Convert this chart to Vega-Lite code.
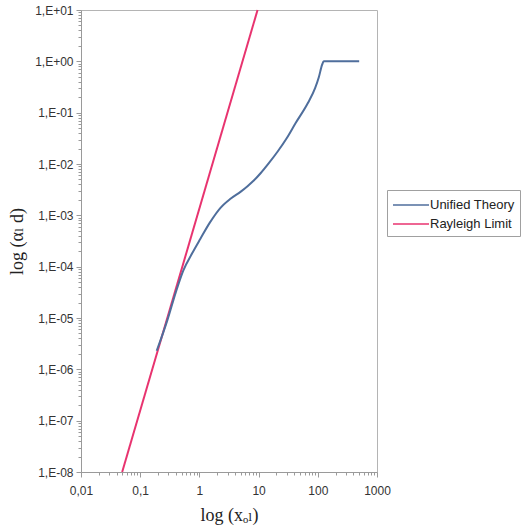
{
  "$schema": "https://vega.github.io/schema/vega-lite/v6.json",
  "autosize": "none",
  "width": 296,
  "height": 462,
  "padding": {"left": 81, "top": 10, "right": 144, "bottom": 57},
  "background": "white",
  "config": {
    "view": {"stroke": "#b4b4b4", "strokeWidth": 1},
    "axis": {
      "domainColor": "#9a9a9a",
      "tickColor": "#9a9a9a",
      "labelColor": "#333333",
      "labelFont": "Liberation Sans",
      "labelFontSize": 12,
      "titleFont": "Liberation Serif, DejaVu Serif, DejaVu Sans",
      "titleFontSize": 18,
      "titleFontWeight": "normal",
      "titleColor": "#222222",
      "grid": false,
      "labelOverlap": false,
      "labelFlush": false
    },
    "legend": {
      "labelFont": "Liberation Sans",
      "labelFontSize": 13,
      "labelColor": "#222222"
    }
  },
  "data": {
    "values": [
      {"series": "Rayleigh Limit", "x": 0.0496, "y": 1e-8},
      {"series": "Rayleigh Limit", "x": 9.6, "y": 10},
      {"series": "Unified Theory", "x": 0.19, "y": 2.3e-6},
      {"series": "Unified Theory", "x": 0.287, "y": 9e-6},
      {"series": "Unified Theory", "x": 0.4, "y": 3.2e-5},
      {"series": "Unified Theory", "x": 0.536, "y": 8.5e-5},
      {"series": "Unified Theory", "x": 0.75, "y": 1.8e-4},
      {"series": "Unified Theory", "x": 1.04, "y": 3.5e-4},
      {"series": "Unified Theory", "x": 1.5, "y": 7.2e-4},
      {"series": "Unified Theory", "x": 2.27, "y": 1.4e-3},
      {"series": "Unified Theory", "x": 3.35, "y": 2.1e-3},
      {"series": "Unified Theory", "x": 5, "y": 2.9e-3},
      {"series": "Unified Theory", "x": 6.5, "y": 3.7e-3},
      {"series": "Unified Theory", "x": 8.2, "y": 4.7e-3},
      {"series": "Unified Theory", "x": 10.8, "y": 6.6e-3},
      {"series": "Unified Theory", "x": 15, "y": 0.0105},
      {"series": "Unified Theory", "x": 21, "y": 0.0175},
      {"series": "Unified Theory", "x": 30, "y": 0.032},
      {"series": "Unified Theory", "x": 42, "y": 0.062},
      {"series": "Unified Theory", "x": 68, "y": 0.154},
      {"series": "Unified Theory", "x": 90, "y": 0.3},
      {"series": "Unified Theory", "x": 104, "y": 0.49},
      {"series": "Unified Theory", "x": 118, "y": 0.85},
      {"series": "Unified Theory", "x": 126, "y": 1.0},
      {"series": "Unified Theory", "x": 500, "y": 1.0}
    ]
  },
  "mark": {"type": "line", "strokeWidth": 2, "interpolate": "monotone"},
  "encoding": {
    "x": {
      "field": "x",
      "type": "quantitative",
      "scale": {"type": "log", "domain": [0.01, 1000], "nice": false},
      "axis": {
        "title": "log (xₒₗ)",
        "values": [0.01,0.02,0.03,0.04,0.05,0.06,0.07,0.08,0.09,0.1,0.2,0.3,0.4,0.5,0.6,0.7,0.8,0.9,1,2,3,4,5,6,7,8,9,10,20,30,40,50,60,70,80,90,100,200,300,400,500,600,700,800,900,1000],
        "labelExpr": "abs(log(datum.value)/LN10 - round(log(datum.value)/LN10)) < 0.001 ? replace(format(datum.value, '~g'), '.', ',') : ''",
        "tickSize": {"condition": {"test": "abs(log(datum.value)/LN10 - round(log(datum.value)/LN10)) < 0.001", "value": 5}, "value": 3},
        "labelPadding": 8,
        "titlePadding": 10
      }
    },
    "y": {
      "field": "y",
      "type": "quantitative",
      "scale": {"type": "log", "domain": [1e-8, 10], "nice": false},
      "axis": {
        "title": "log (αₗ d)",
        "values": [1e-8,2e-8,3e-8,4e-8,5e-8,6e-8,7e-8,8e-8,9e-8,1e-7,2e-7,3e-7,4e-7,5e-7,6e-7,7e-7,8e-7,9e-7,1e-6,2e-6,3e-6,4e-6,5e-6,6e-6,7e-6,8e-6,9e-6,1e-5,2e-5,3e-5,4e-5,5e-5,6e-5,7e-5,8e-5,9e-5,1e-4,2e-4,3e-4,4e-4,5e-4,6e-4,7e-4,8e-4,9e-4,1e-3,2e-3,3e-3,4e-3,5e-3,6e-3,7e-3,8e-3,9e-3,0.01,0.02,0.03,0.04,0.05,0.06,0.07,0.08,0.09,0.1,0.2,0.3,0.4,0.5,0.6,0.7,0.8,0.9,1,2,3,4,5,6,7,8,9,10],
        "labelExpr": "abs(log(datum.value)/LN10 - round(log(datum.value)/LN10)) < 0.001 ? '1,E' + (round(log(datum.value)/LN10) >= 0 ? '+' : '-') + (abs(round(log(datum.value)/LN10)) < 10 ? '0' : '') + abs(round(log(datum.value)/LN10)) : ''",
        "tickSize": {"condition": {"test": "abs(log(datum.value)/LN10 - round(log(datum.value)/LN10)) < 0.001", "value": 5}, "value": 3},
        "labelPadding": 3,
        "titlePadding": 8
      }
    },
    "color": {
      "field": "series",
      "type": "nominal",
      "scale": {"domain": ["Unified Theory", "Rayleigh Limit"], "range": ["#4f6e9c", "#e8336f"]},
      "legend": {
        "title": null,
        "orient": "none",
        "legendX": 306,
        "legendY": 180,
        "symbolType": "M-1,0L3,0",
        "symbolSize": 324,
        "symbolStrokeWidth": 1.5,
        "strokeColor": "#a0a0a0",
        "fillColor": "white",
        "padding": 5,
        "rowPadding": 2,
        "labelOffset": 18
      }
    }
  }
}
